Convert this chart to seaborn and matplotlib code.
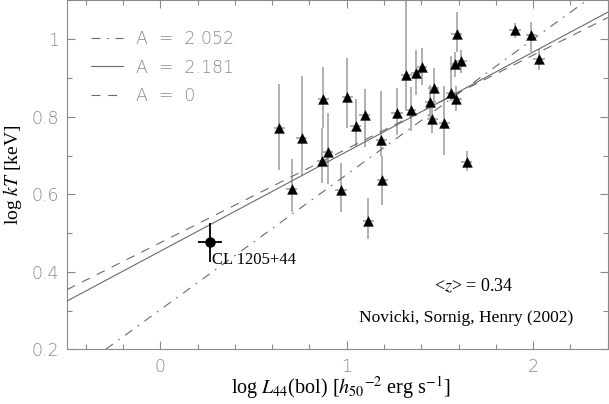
import numpy as np
import pandas as pd
import matplotlib
matplotlib.use("Agg")
import matplotlib.pyplot as plt
from matplotlib.lines import Line2D
import seaborn as sns

# ---------------- data ----------------
log_L = [0.638, 0.759, 0.875, 0.869, 0.898, 0.706, 0.969, 1.003, 1.049, 1.097,
         1.186, 1.190, 1.115, 1.270, 1.343, 1.320, 1.373, 1.403, 1.467, 1.448,
         1.458, 1.524, 1.560, 1.587, 1.583, 1.613, 1.590, 1.643, 1.902, 1.990,
         2.031]
log_kT = [0.771, 0.744, 0.845, 0.687, 0.708, 0.614, 0.611, 0.852, 0.775, 0.805,
          0.740, 0.638, 0.530, 0.809, 0.818, 0.909, 0.914, 0.929, 0.875, 0.839,
          0.794, 0.784, 0.862, 0.846, 0.935, 0.944, 1.014, 0.684, 1.023, 1.010,
          0.949]
kT_low = [0.662, 0.647, 0.771, 0.630, 0.626, 0.553, 0.555, 0.771, 0.724, 0.721,
          0.700, 0.573, 0.485, 0.754, 0.762, 0.820, 0.856, 0.882, 0.822, 0.792,
          0.758, 0.701, 0.840, 0.814, 0.903, 0.912, 0.967, 0.660, 1.002, 0.967,
          0.920]
kT_high = [0.884, 0.906, 0.929, 0.771, 0.809, 0.690, 0.681, 0.952, 0.846, 0.871,
           0.867, 0.700, 0.590, 0.873, 0.878, 1.150, 0.972, 0.978, 0.926, 0.882,
           0.822, 0.880, 0.957, 0.880, 0.967, 0.973, 1.070, 0.711, 1.043, 1.044,
           0.976]
L_err = [0.03] * len(log_L)

cl_name = "CL 1205+44"
cl_L = [0.266]
cl_kT = [0.476]
cl_L_err = [0.063]
cl_kT_low = [0.425]
cl_kT_high = [0.525]

fit_labels = ["A  =  2.052", "A  =  2.181", "A  =  0"]
fit_intercepts = [0.302, 0.453, 0.475]
fit_slopes = [0.349, 0.257, 0.242]

x_ticks = [0, 1, 2]
x_ticklabels = ["0", "1", "2"]
y_ticks = [0.2, 0.4, 0.6, 0.8, 1.0]
y_ticklabels = ["0.2", "0.4", "0.6", "0.8", "1"]

df = pd.DataFrame({"logL": log_L, "logkT": log_kT})

# ---------------- style ----------------
sns.set_theme(style="ticks")
plt.rcParams["font.family"] = ["DejaVu Sans"]
plt.rcParams["mathtext.fontset"] = "stix"

GRAY = "#8a8a8a"
LINE = "#6a6a6a"
ERR = "#aaaaaa"

fig = plt.figure(figsize=(6.09, 4.04), dpi=100)
ax = fig.add_axes([0.110, 0.1354, 0.888, 0.8634])

# error bars of the cluster sample
yerr = [np.array(log_kT) - np.array(kT_low), np.array(kT_high) - np.array(log_kT)]
ax.errorbar(log_L, log_kT, xerr=L_err, yerr=yerr, fmt="none",
            ecolor=ERR, elinewidth=1.3, capsize=0, zorder=2)

# fit lines
styles = [dict(linestyle=(0, (8, 6, 1.5, 6))),
          dict(linestyle="-"),
          dict(linestyle=(0, (8, 7)))]
handles = []
for a, b, st, lab in zip(fit_intercepts, fit_slopes, styles, fit_labels):
    ax.axline((0, a), slope=b, color=LINE, lw=0.8, zorder=3, **st)
    handles.append(Line2D([], [], color=LINE, lw=0.8, **st))

sns.scatterplot(data=df, x="logL", y="logkT", marker="^", s=50, color="black",
                edgecolor="black", linewidth=0.3, ax=ax, zorder=4, legend=False)

# CL 1205+44
ax.errorbar(cl_L, cl_kT, xerr=cl_L_err,
            yerr=[np.array(cl_kT) - np.array(cl_kT_low), np.array(cl_kT_high) - np.array(cl_kT)],
            fmt="o", color="black", ms=6.5, elinewidth=1.3, capsize=0, zorder=5)
ax.text(cl_L[0] + 0.009, 0.4315, cl_name, family="Liberation Serif", fontsize=12,
        va="center", ha="left", color="black")

ax.text(1.466, 0.362, r"<$z$> = 0.34", family="Liberation Serif", fontsize=13,
        va="center", ha="left", color="black")
ax.text(1.065, 0.280, "Novicki, Sornig, Henry (2002)", family="Liberation Serif",
        fontsize=12.5, va="center", ha="left", color="black")

leg = ax.legend(handles, fit_labels, loc="upper left", bbox_to_anchor=(0.044, 0.916),
                frameon=False, fontsize=12.5, handlelength=1.85, handletextpad=0.75,
                labelspacing=0.62, borderpad=0, borderaxespad=0)
for t in leg.get_texts():
    t.set_color(GRAY)
    t.set_fontweight("light")

ax.set_xlim(-0.5, 2.4)
ax.set_ylim(0.2, 1.1)
ax.set_xticks(x_ticks, x_ticklabels)
ax.set_yticks(y_ticks, y_ticklabels)
ax.set_xticks(np.arange(-0.4, 2.41, 0.2), minor=True)
ax.set_yticks(np.arange(0.3, 1.1, 0.1), minor=True)
ax.tick_params(which="both", direction="in", top=True, right=True, color=GRAY,
               width=0.8, labelcolor=GRAY, labelsize=12.5)
ax.tick_params(which="major", length=6)
ax.tick_params(which="minor", length=3.5)
ax.tick_params(axis="x", pad=6)
ax.tick_params(axis="y", pad=6)
for lab in ax.get_xticklabels() + ax.get_yticklabels():
    lab.set_fontweight("light")
for sp in ax.spines.values():
    sp.set_color(GRAY)
    sp.set_linewidth(0.8)

ax.set_xlabel(r"log $L_{44}$(bol) [$h_{50}{}^{-2}$ erg s$^{-1}$]",
              family="Liberation Serif", fontsize=14.5, color="black")
ax.xaxis.set_label_coords(0.507, -0.071)
ax.set_ylabel(r"log $kT$ [keV]", family="Liberation Serif", fontsize=14, color="black")
ax.yaxis.set_label_coords(-0.079, 0.5)

fig.savefig("out.png", dpi=100)
